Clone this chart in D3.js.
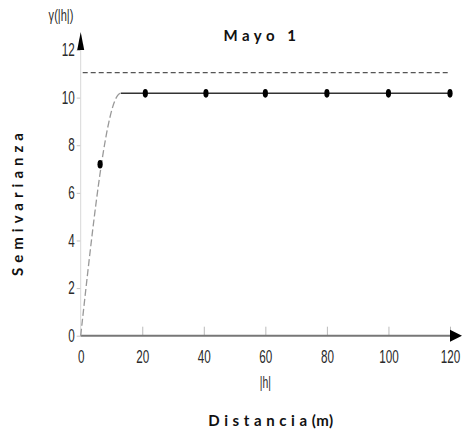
<!DOCTYPE html>
<html>
<head>
<meta charset="utf-8">
<script src="https://cdn.jsdelivr.net/npm/d3@7"></script>
<style>
  html, body { margin: 0; padding: 0; background: #fff; }
  svg { display: block; }
  .num { font-family: "Liberation Sans", Arial, sans-serif; fill: #2a2a2a; }
  .lbl { font-family: Lato, "Open Sans", sans-serif; font-weight: bold; fill: #111; }
</style>
</head>
<body>
<svg id="chart" width="464" height="437"></svg>
<script>
// Experimental semivariogram, "Mayo 1"
const lagDistance = [6.3, 21, 40.7, 60, 80, 100, 120];
const semivariance = [7.2, 10.18, 10.18, 10.18, 10.18, 10.18, 10.18];
const xTicks = [0, 20, 40, 60, 80, 100, 120];
const yTicks = [0, 2, 4, 6, 8, 10, 12];

// Fitted spherical model and total sample variance
const modelNugget = 0;
const modelSill = 10.18;
const modelRange = 13;
const sampleVariance = 11.05;

// Horizontal squeeze used to get a narrow numeric face
const narrow = 0.65;

const svg = d3.select("#chart");

const x = d3.scaleLinear().domain([0, 120]).range([80.7, 450]);
const y = d3.scaleLinear().domain([0, 12]).range([335.7, 50]);

function spherical(h) {
  if (h >= modelRange) return modelNugget + modelSill;
  const r = h / modelRange;
  return modelNugget + modelSill * (1.5 * r - 0.5 * r * r * r);
}

// Y axis: light line, short ticks to the left, arrow on top
const yAxis = d3.axisLeft(y).tickValues(yTicks).tickSize(4).tickPadding(2);
const gy = svg.append("g").attr("transform", `translate(${x(0)},0)`).call(yAxis);
gy.select(".domain").remove();
gy.selectAll(".tick line").attr("stroke", "#c4c4c4");
gy.selectAll(".tick text")
  .attr("class", "num")
  .style("font-size", "18px")
  .attr("x", -6 / narrow)
  .attr("transform", `scale(${narrow},1)`);
svg.append("line")
  .attr("x1", x(0)).attr("x2", x(0))
  .attr("y1", y(0)).attr("y2", 40)
  .attr("stroke", "#d8d8d8").attr("stroke-width", 1);
svg.append("path")
  .attr("d", `M${x(0) - 3.5},${50} L${x(0)},${32} L${x(0) + 3.5},${50} Z`)
  .attr("fill", "#000");

// X axis: ticks pointing up into the plot, thick grey baseline, arrow at the end
const xAxis = d3.axisBottom(x).tickValues(xTicks).tickSize(0).tickPadding(15);
const gx = svg.append("g").attr("transform", `translate(0,${y(0)})`).call(xAxis);
gx.select(".domain").remove();
gx.selectAll(".tick text")
  .attr("class", "num")
  .style("font-size", "18px")
  .attr("transform", `scale(${narrow},1)`);
gx.selectAll(".tick").filter(d => d > 0).append("line")
  .attr("y1", 0).attr("y2", -9)
  .attr("stroke", "#bbb").attr("stroke-width", 1);
svg.append("line")
  .attr("x1", x(0)).attr("x2", 452)
  .attr("y1", y(0)).attr("y2", y(0))
  .attr("stroke", "#777").attr("stroke-width", 2);
svg.append("path")
  .attr("d", `M450,${y(0) - 6} L462,${y(0)} L450,${y(0) + 6} Z`)
  .attr("fill", "#000");

// Sample variance (dashed horizontal)
svg.append("line")
  .attr("x1", x(0) + 2).attr("x2", x(120))
  .attr("y1", y(sampleVariance)).attr("y2", y(sampleVariance))
  .attr("stroke", "#555").attr("stroke-width", 1.3)
  .attr("stroke-dasharray", "5,3");

// Model curve: dashed inside the range, solid beyond it
const line = d3.line().x(d => x(d)).y(d => y(spherical(d)));
const insideRange = d3.range(0, modelRange + 0.001, modelRange / 40);
svg.append("path")
  .attr("d", line(insideRange))
  .attr("fill", "none").attr("stroke", "#999").attr("stroke-width", 1.3)
  .attr("stroke-dasharray", "7,3");
svg.append("path")
  .attr("d", line([modelRange, 120]))
  .attr("fill", "none").attr("stroke", "#333").attr("stroke-width", 1.5);

// Experimental points
svg.selectAll("ellipse.pt")
  .data(lagDistance.map((h, i) => [h, semivariance[i]]))
  .join("ellipse")
  .attr("class", "pt")
  .attr("cx", d => x(d[0])).attr("cy", d => y(d[1]))
  .attr("rx", 2.6).attr("ry", 4.3)
  .attr("fill", "#000");

// Texts
svg.append("text").attr("class", "lbl")
  .attr("x", 262).attr("y", 41)
  .attr("text-anchor", "middle")
  .style("font-size", "15px").style("letter-spacing", "4.5px")
  .text("Mayo 1");

svg.append("text").attr("class", "num")
  .attr("transform", `translate(61,21) scale(${narrow},1)`)
  .attr("text-anchor", "middle")
  .style("font-size", "17px")
  .text("γ(|h|)");

svg.append("text").attr("class", "num")
  .attr("transform", `translate(${x(60)},388) scale(${narrow},1)`)
  .attr("text-anchor", "middle")
  .style("font-size", "16px")
  .text("|h|");

const xTitle = svg.append("text").attr("class", "lbl")
  .attr("x", 271).attr("y", 426)
  .attr("text-anchor", "middle")
  .style("font-size", "15px");
xTitle.append("tspan").style("letter-spacing", "4.6px").text("Distancia");
xTitle.append("tspan").style("letter-spacing", "0.5px").text("(m)");

svg.append("text").attr("class", "lbl")
  .attr("transform", "translate(22.5,202) rotate(-90)")
  .attr("text-anchor", "middle")
  .style("font-size", "15px").style("letter-spacing", "5px")
  .text("Semivarianza");
</script>
</body>
</html>
